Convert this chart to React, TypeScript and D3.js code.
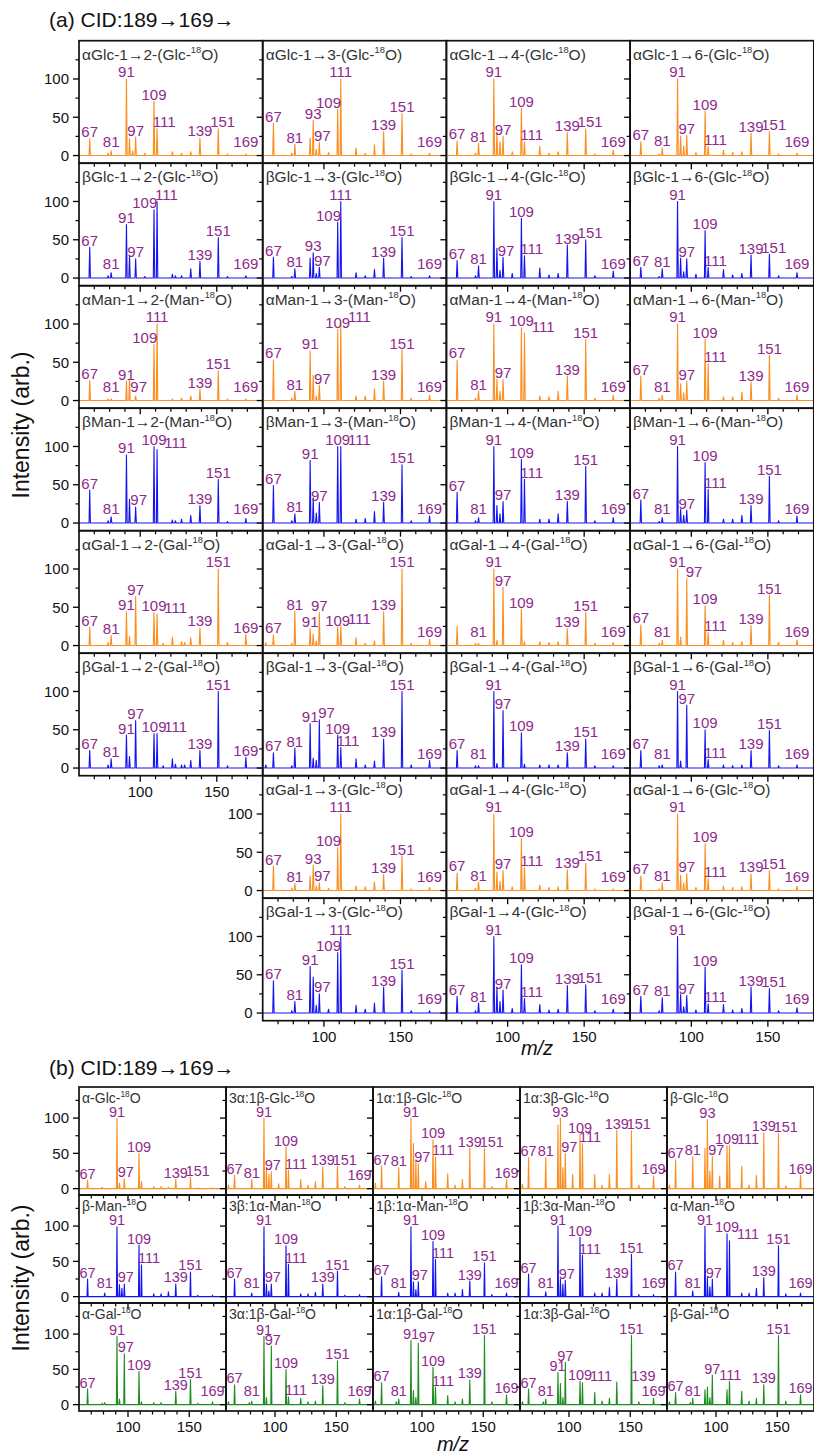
import React from "react";
import * as d3 from "d3";

type Peak = [number, number];

// ---------------- axis settings ----------------
const MZ_RANGE: [number, number] = [60, 180];
const Y_MAJOR = [0, 50, 100];
const Y_MINOR = [25, 75, 125];
const X_MAJOR = [100, 150];
const X_MINOR = [70, 80, 90, 110, 120, 130, 140, 160, 170];

// ---------------- peak label sets ----------------
const LBL_STD = [67, 81, 91, 97, 109, 111, 139, 151, 169];
const LBL_93 = [67, 81, 93, 97, 109, 111, 139, 151, 169];
const LBL_NO67_111 = [81, 91, 97, 109, 139, 151, 169];
const LBL_NO111 = [67, 81, 91, 97, 109, 139, 151, 169];
const LBL_B_AGLC = [67, 91, 97, 109, 139, 151];
const LBL_B_MAN = [67, 81, 91, 97, 109, 111, 139, 151];
const LBL_B_AGAL = [67, 91, 97, 109, 139, 151, 169];
const LBL_B_BGAL = [67, 81, 97, 111, 139, 151, 169];

// ---------------- (a) disaccharide spectra: [m/z, intensity] ----------------
const aGlc12: Peak[] = [[67, 22], [79, 3], [81, 6], [91, 100], [93, 22], [95, 6], [97, 24], [103, 3], [109, 71], [111, 35], [121, 5], [127, 3], [133, 5], [139, 23], [151, 35], [157, 2], [169, 2]];
const aGlc13: Peak[] = [[67, 42], [79, 3], [81, 15], [91, 23], [93, 46], [95, 8], [97, 17], [103, 4], [109, 60], [111, 100], [121, 10], [127, 3], [133, 14], [139, 31], [151, 55], [157, 2], [169, 3]];
const aGlc14: Peak[] = [[67, 19], [79, 3], [81, 16], [91, 100], [93, 31], [95, 18], [97, 25], [103, 5], [109, 62], [111, 18], [121, 12], [127, 3], [133, 5], [139, 30], [151, 35], [157, 2], [169, 7]];
const aGlc16: Peak[] = [[67, 18], [79, 2], [81, 10], [91, 100], [93, 25], [95, 12], [97, 26], [103, 4], [109, 58], [111, 12], [121, 7], [127, 4], [133, 5], [139, 29], [151, 31], [157, 2], [169, 3]];

const bGlc12: Peak[] = [[67, 40], [79, 3], [81, 7], [91, 70], [93, 28], [97, 25], [103, 2], [109, 89], [111, 100], [121, 5], [123, 3], [127, 3], [133, 12], [139, 22], [151, 53], [157, 2], [169, 3]];
const bGlc13: Peak[] = [[67, 27], [79, 2], [81, 12], [91, 26], [93, 33], [95, 6], [97, 14], [109, 73], [111, 100], [121, 7], [127, 3], [133, 11], [139, 26], [151, 53], [157, 2], [169, 3]];
const bGlc14: Peak[] = [[67, 23], [79, 3], [81, 16], [91, 100], [93, 39], [95, 10], [97, 27], [103, 6], [109, 78], [111, 29], [121, 13], [127, 4], [133, 6], [139, 43], [151, 50], [157, 3], [169, 9]];
const bGlc16: Peak[] = [[67, 14], [79, 2], [81, 12], [91, 100], [93, 26], [95, 8], [97, 25], [103, 5], [109, 62], [111, 14], [121, 11], [127, 4], [133, 6], [139, 30], [151, 31], [157, 3], [169, 7]];

const aMan12: Peak[] = [[67, 26], [79, 2], [81, 2], [91, 25], [93, 28], [97, 6], [109, 73], [111, 100], [121, 2], [127, 3], [133, 6], [139, 15], [151, 39], [157, 2], [169, 2]];
const aMan13: Peak[] = [[67, 53], [79, 3], [81, 12], [91, 65], [93, 33], [95, 6], [97, 20], [109, 93], [111, 100], [121, 6], [127, 6], [133, 15], [139, 25], [151, 66], [157, 3], [169, 7]];
const aMan14: Peak[] = [[67, 53], [79, 3], [81, 12], [91, 100], [93, 28], [95, 12], [97, 27], [109, 95], [111, 88], [121, 6], [127, 5], [133, 12], [139, 32], [151, 80], [157, 3], [169, 7]];
const aMan16: Peak[] = [[67, 32], [79, 3], [81, 7], [91, 100], [93, 22], [95, 10], [97, 25], [109, 80], [111, 48], [121, 5], [127, 5], [133, 11], [139, 24], [151, 59], [157, 3], [169, 7]];

const bMan12: Peak[] = [[67, 43], [79, 3], [81, 8], [91, 89], [93, 31], [97, 21], [109, 100], [111, 96], [121, 4], [123, 3], [127, 5], [133, 10], [139, 23], [151, 57], [157, 2], [169, 6]];
const bMan13: Peak[] = [[67, 49], [79, 3], [81, 12], [91, 82], [93, 33], [95, 13], [97, 27], [109, 100], [111, 100], [121, 5], [127, 6], [133, 15], [139, 27], [151, 76], [157, 3], [169, 9]];
const bMan14: Peak[] = [[67, 40], [79, 3], [81, 7], [91, 100], [93, 23], [95, 12], [97, 28], [109, 83], [111, 57], [121, 5], [127, 5], [133, 12], [139, 28], [151, 74], [157, 3], [169, 7]];
const bMan16: Peak[] = [[67, 30], [79, 2], [81, 7], [91, 100], [93, 18], [95, 10], [97, 17], [109, 79], [111, 44], [121, 5], [127, 5], [133, 10], [139, 23], [151, 61], [157, 3], [169, 9]];

const aGal12: Peak[] = [[67, 24], [79, 4], [81, 13], [91, 44], [93, 12], [97, 64], [109, 43], [111, 41], [115, 3], [121, 11], [127, 5], [129, 4], [133, 10], [139, 23], [151, 100], [157, 4], [169, 15]];
const aGal13: Peak[] = [[62, 4], [67, 14], [79, 3], [81, 45], [91, 22], [93, 15], [95, 6], [97, 43], [109, 24], [111, 26], [121, 10], [127, 3], [133, 6], [139, 44], [151, 100], [157, 3], [169, 8]];
const aGal14: Peak[] = [[67, 25], [79, 3], [81, 3], [91, 100], [93, 7], [97, 76], [109, 47], [111, 5], [121, 5], [127, 4], [133, 5], [139, 22], [151, 43], [157, 3], [169, 4]];
const aGal16: Peak[] = [[67, 27], [79, 3], [81, 7], [91, 100], [93, 11], [97, 88], [109, 52], [111, 17], [121, 7], [127, 4], [133, 5], [139, 26], [151, 66], [157, 4], [169, 7]];

const bGal12: Peak[] = [[67, 23], [79, 4], [81, 12], [91, 43], [93, 15], [97, 62], [109, 45], [111, 45], [115, 3], [121, 12], [123, 5], [127, 4], [129, 4], [133, 10], [139, 23], [151, 100], [157, 3], [169, 14]];
const bGal13: Peak[] = [[62, 4], [67, 20], [79, 3], [81, 26], [91, 58], [93, 13], [95, 10], [97, 63], [109, 43], [111, 27], [121, 12], [127, 4], [133, 9], [139, 38], [151, 100], [157, 4], [169, 10]];
const bGal14: Peak[] = [[67, 23], [79, 3], [81, 3], [91, 100], [93, 6], [97, 75], [109, 46], [111, 5], [121, 4], [127, 4], [133, 4], [139, 20], [151, 38], [157, 3], [169, 3]];
const bGal16: Peak[] = [[67, 23], [79, 3], [81, 4], [91, 100], [93, 9], [97, 82], [109, 50], [111, 11], [121, 4], [127, 3], [133, 4], [139, 23], [151, 49], [157, 3], [169, 4]];

const aGalGlc13: Peak[] = [[67, 32], [79, 3], [81, 9], [91, 19], [93, 33], [95, 6], [97, 10], [103, 3], [109, 56], [111, 100], [121, 6], [127, 5], [133, 11], [139, 21], [151, 45], [157, 2], [169, 4]];
const aGalGlc14: Peak[] = [[67, 23], [79, 3], [81, 11], [91, 100], [93, 24], [95, 12], [97, 26], [103, 5], [109, 68], [111, 30], [121, 7], [127, 4], [133, 5], [139, 27], [151, 36], [157, 2], [169, 2]];
const aGalGlc16: Peak[] = [[67, 19], [79, 2], [81, 10], [91, 100], [93, 20], [95, 10], [97, 22], [103, 4], [109, 61], [111, 16], [121, 6], [127, 4], [133, 5], [139, 22], [151, 26], [157, 2], [169, 6]];

const bGalGlc13: Peak[] = [[67, 42], [79, 3], [81, 15], [91, 61], [93, 47], [95, 10], [97, 25], [103, 5], [109, 79], [111, 100], [121, 10], [127, 5], [133, 13], [139, 34], [151, 56], [157, 3], [169, 3]];
const bGalGlc14: Peak[] = [[67, 22], [79, 3], [81, 13], [91, 100], [93, 33], [95, 15], [97, 30], [103, 6], [109, 63], [111, 19], [121, 11], [127, 4], [133, 5], [139, 36], [151, 37], [157, 3], [169, 5]];
const bGalGlc16: Peak[] = [[67, 22], [79, 3], [81, 20], [91, 100], [93, 24], [95, 8], [97, 23], [103, 4], [109, 60], [111, 12], [121, 11], [127, 4], [133, 6], [139, 34], [151, 32], [157, 3], [169, 7]];

// ---------------- (b) monosaccharide spectra ----------------
const mAGlc: Peak[] = [[67, 12], [79, 2], [91, 100], [93, 8], [97, 14], [109, 50], [111, 10], [121, 3], [127, 3], [133, 2], [139, 13], [151, 16], [157, 1], [169, 1]];
const m3a1bGlc: Peak[] = [[62, 5], [67, 19], [81, 13], [91, 100], [93, 30], [95, 20], [97, 24], [103, 7], [109, 59], [111, 26], [121, 13], [127, 5], [133, 10], [139, 31], [151, 32], [157, 3], [169, 5]];
const m1a1bGlc: Peak[] = [[62, 8], [67, 32], [81, 30], [91, 100], [93, 64], [95, 40], [97, 36], [103, 10], [109, 69], [111, 45], [121, 21], [127, 5], [133, 13], [139, 57], [151, 57], [157, 3], [169, 13]];
const m1a3bGlc: Peak[] = [[62, 6], [67, 44], [81, 44], [91, 90], [93, 100], [95, 30], [97, 50], [103, 20], [109, 77], [111, 64], [121, 20], [127, 5], [133, 20], [139, 83], [151, 82], [157, 5], [169, 18]];
const mBGlc: Peak[] = [[62, 5], [67, 41], [81, 45], [91, 57], [93, 98], [95, 25], [97, 45], [103, 18], [109, 61], [111, 61], [121, 32], [127, 5], [133, 19], [139, 79], [151, 78], [157, 4], [169, 19]];

const mBMan: Peak[] = [[67, 25], [81, 5], [91, 99], [93, 17], [95, 12], [97, 18], [109, 73], [111, 45], [121, 4], [127, 4], [133, 7], [139, 18], [151, 35], [157, 2], [169, 2]];
const m3b1aMan: Peak[] = [[67, 25], [81, 5], [91, 99], [93, 18], [95, 8], [97, 18], [109, 72], [111, 46], [121, 4], [127, 4], [133, 6], [139, 18], [151, 36], [157, 2], [169, 3]];
const m1b1aMan: Peak[] = [[67, 28], [81, 6], [91, 99], [93, 21], [95, 10], [97, 21], [109, 78], [111, 53], [121, 5], [127, 5], [133, 10], [139, 22], [151, 48], [157, 3], [169, 5]];
const m1b3aMan: Peak[] = [[67, 32], [81, 7], [91, 100], [93, 25], [95, 18], [97, 23], [109, 84], [111, 59], [121, 5], [127, 5], [133, 13], [139, 25], [151, 60], [157, 3], [169, 3]];
const mAMan: Peak[] = [[67, 35], [81, 8], [91, 100], [93, 27], [95, 14], [97, 25], [109, 89], [111, 79], [121, 5], [127, 5], [133, 12], [139, 27], [151, 72], [157, 4], [169, 5]];

const mAGal: Peak[] = [[67, 22], [79, 2], [81, 3], [91, 97], [93, 8], [97, 72], [109, 47], [111, 4], [121, 3], [127, 3], [139, 19], [151, 36], [157, 2], [169, 4]];
const m3a1bGal: Peak[] = [[62, 4], [67, 28], [79, 3], [81, 5], [91, 97], [93, 10], [97, 83], [109, 50], [111, 11], [121, 9], [127, 4], [133, 5], [139, 27], [151, 62], [157, 3], [169, 8]];
const m1a1bGal: Peak[] = [[62, 5], [67, 31], [79, 4], [81, 8], [91, 91], [93, 20], [95, 10], [97, 87], [109, 53], [111, 25], [121, 13], [127, 4], [133, 8], [139, 35], [151, 98], [157, 4], [169, 14]];
const m1a3bGal: Peak[] = [[62, 4], [67, 22], [79, 4], [81, 8], [91, 46], [93, 30], [95, 10], [97, 60], [109, 33], [111, 31], [121, 17], [127, 5], [133, 9], [139, 32], [151, 98], [157, 4], [169, 9]];
const mBGal: Peak[] = [[62, 4], [67, 17], [79, 3], [81, 9], [91, 21], [93, 25], [95, 10], [97, 42], [109, 21], [111, 33], [121, 19], [127, 5], [133, 9], [139, 28], [151, 98], [157, 5], [169, 14]];

// ---------------- panel titles ("^18" marks the superscript) ----------------
const titlesA: (string | null)[][] = [
  ["αGlc-1→2-(Glc-^18O)", "αGlc-1→3-(Glc-^18O)", "αGlc-1→4-(Glc-^18O)", "αGlc-1→6-(Glc-^18O)"],
  ["βGlc-1→2-(Glc-^18O)", "βGlc-1→3-(Glc-^18O)", "βGlc-1→4-(Glc-^18O)", "βGlc-1→6-(Glc-^18O)"],
  ["αMan-1→2-(Man-^18O)", "αMan-1→3-(Man-^18O)", "αMan-1→4-(Man-^18O)", "αMan-1→6-(Man-^18O)"],
  ["βMan-1→2-(Man-^18O)", "βMan-1→3-(Man-^18O)", "βMan-1→4-(Man-^18O)", "βMan-1→6-(Man-^18O)"],
  ["αGal-1→2-(Gal-^18O)", "αGal-1→3-(Gal-^18O)", "αGal-1→4-(Gal-^18O)", "αGal-1→6-(Gal-^18O)"],
  ["βGal-1→2-(Gal-^18O)", "βGal-1→3-(Gal-^18O)", "βGal-1→4-(Gal-^18O)", "βGal-1→6-(Gal-^18O)"],
  [null, "αGal-1→3-(Glc-^18O)", "αGal-1→4-(Glc-^18O)", "αGal-1→6-(Glc-^18O)"],
  [null, "βGal-1→3-(Glc-^18O)", "βGal-1→4-(Glc-^18O)", "βGal-1→6-(Glc-^18O)"],
];
const spectraA: (Peak[] | null)[][] = [
  [aGlc12, aGlc13, aGlc14, aGlc16],
  [bGlc12, bGlc13, bGlc14, bGlc16],
  [aMan12, aMan13, aMan14, aMan16],
  [bMan12, bMan13, bMan14, bMan16],
  [aGal12, aGal13, aGal14, aGal16],
  [bGal12, bGal13, bGal14, bGal16],
  [null, aGalGlc13, aGalGlc14, aGalGlc16],
  [null, bGalGlc13, bGalGlc14, bGalGlc16],
];
const labelsA: (number[] | null)[][] = [
  [LBL_STD, LBL_93, LBL_STD, LBL_STD],
  [LBL_STD, LBL_93, LBL_STD, LBL_STD],
  [LBL_STD, LBL_STD, LBL_STD, LBL_STD],
  [LBL_STD, LBL_STD, LBL_STD, LBL_STD],
  [LBL_STD, LBL_STD, LBL_NO67_111, LBL_STD],
  [LBL_STD, LBL_STD, LBL_NO111, LBL_STD],
  [null, LBL_93, LBL_STD, LBL_STD],
  [null, LBL_STD, LBL_STD, LBL_STD],
];

const titlesB: string[][] = [
  ["α-Glc-^18O", "3α:1β-Glc-^18O", "1α:1β-Glc-^18O", "1α:3β-Glc-^18O", "β-Glc-^18O"],
  ["β-Man-^18O", "3β:1α-Man-^18O", "1β:1α-Man-^18O", "1β:3α-Man-^18O", "α-Man-^18O"],
  ["α-Gal-^18O", "3α:1β-Gal-^18O", "1α:1β-Gal-^18O", "1α:3β-Gal-^18O", "β-Gal-^18O"],
];
const spectraB: Peak[][][] = [
  [mAGlc, m3a1bGlc, m1a1bGlc, m1a3bGlc, mBGlc],
  [mBMan, m3b1aMan, m1b1aMan, m1b3aMan, mAMan],
  [mAGal, m3a1bGal, m1a1bGal, m1a3bGal, mBGal],
];
const labelsB: number[][][] = [
  [LBL_B_AGLC, LBL_STD, LBL_STD, LBL_93, LBL_93],
  [LBL_B_MAN, LBL_B_MAN, LBL_STD, LBL_STD, LBL_STD],
  [LBL_B_AGAL, LBL_STD, LBL_STD, LBL_STD, LBL_B_BGAL],
];

// ---------------- styling ----------------
const FONT = "'Liberation Sans', Arial, Helvetica, sans-serif";
const ORANGE = "#FA8E1E";
const BLUE = "#1414F0";
const GREEN = "#1F8C1F";
const PURPLE = "#8E2A8C";
const TITLE_COLOR = "#333";

const rowColorsA = [ORANGE, BLUE, ORANGE, BLUE, ORANGE, BLUE, ORANGE, BLUE];
const rowColorsB = [ORANGE, BLUE, GREEN];

type LabelPos = { mz: number; x: number; y: number };
type Scale = d3.ScaleLinear<number, number>;

const EPS = 0.05;

// Approximate inked width of a numeric label ("1" is visually narrow).
function labelWidth(text: string, fs: number): number {
  let em = 0;
  for (const ch of text) em += ch === "1" ? 0.42 : 0.556;
  return em * fs;
}

// Place peak labels just above their peaks, sliding a label sideways (to the
// nearest free slot, slightly favouring the right) when a clearly taller peak
// or an earlier label is in the way.
function placeLabels(labels: number[], peaks: Peak[], xs: Scale, ys: Scale, fs: number): LabelPos[] {
  const out: LabelPos[] = [];
  const boxes: { l: number; r: number; t: number; b: number }[] = [];
  const [px0, px1] = xs.range();
  for (const mz of labels) {
    const own = peaks.filter((p) => Math.abs(p[0] - mz) < 0.6);
    const hv = own.length ? Math.max(...own.map((p) => p[1])) : 0;
    const w = labelWidth(String(mz), fs);
    const capH = fs * 0.72;
    const x0 = xs(mz);
    const base = Math.min(ys(hv) - 1.5, ys(0) - 9);
    const top = base - capH;

    const blocked: [number, number][] = [];
    for (const p of peaks) {
      if (Math.abs(p[0] - mz) < 0.6) continue;
      if (ys(p[1]) < base - capH * 0.45) blocked.push([xs(p[0]) - 0.8, xs(p[0]) + 0.8]);
    }
    for (const bx of boxes) {
      const vOverlap = Math.min(bx.b, base) - Math.max(bx.t, top);
      if (vOverlap > 1.5) blocked.push([bx.l - 0.8, bx.r + 0.8]);
    }
    const inside = (cx: number) => cx - w / 2 >= px0 - 4 && cx + w / 2 <= px1 + 6;
    const fits = (cx: number) =>
      inside(cx) && blocked.every(([a, b]) => cx + w / 2 <= a + EPS || cx - w / 2 >= b - EPS);
    let bestX = x0;
    if (!fits(x0)) {
      const cands = blocked.flatMap(([a, b]) => [a - w / 2, b + w / 2]).filter(fits);
      const cost = (c: number) => Math.abs(c - x0) * (c < x0 ? 1.15 : 1);
      if (cands.length) {
        bestX = cands.reduce((acc, c) => (cost(c) < cost(acc) ? c : acc), cands[0]);
      }
    }
    boxes.push({ l: bestX - w / 2, r: bestX + w / 2, t: top, b: base });
    out.push({ mz, x: bestX, y: base });
  }
  return out;
}

function Title({ text, x, y, fs }: { text: string; x: number; y: number; fs: number }) {
  const [pre, post] = text.split("^18");
  const sup = fs * 0.6;
  const shift = fs * 0.42;
  return (
    <text x={x} y={y} fontSize={fs} fill={TITLE_COLOR} fontFamily={FONT}>
      <tspan>{pre}</tspan>
      <tspan fontSize={sup} dy={-shift}>18</tspan>
      <tspan dy={shift}>{post}</tspan>
    </text>
  );
}

type PanelProps = {
  x0: number;
  y0: number;
  w: number;
  h: number;
  yDomain: [number, number];
  peaks: Peak[];
  labels: number[];
  color: string;
  title: string;
  titleFs: number;
  titleDy: number;
  labelFs: number;
  showY: boolean;
  showX: boolean;
};

const TICK_FS = 15;

function Panel(p: PanelProps) {
  const xs = d3.scaleLinear().domain(MZ_RANGE).range([p.x0, p.x0 + p.w]);
  const ys = d3.scaleLinear().domain(p.yDomain).range([p.y0 + p.h, p.y0]);
  const pts: [number, number][] = [[MZ_RANGE[0], 0]];
  [...p.peaks]
    .sort((a, b) => a[0] - b[0])
    .forEach(([mz, v]) => {
      pts.push([mz - 0.45, 0], [mz, v], [mz + 0.45, 0]);
    });
  pts.push([MZ_RANGE[1], 0]);
  const line = d3
    .line<[number, number]>()
    .x((d) => xs(d[0]))
    .y((d) => ys(d[1]));
  const placed = placeLabels(p.labels, p.peaks, xs, ys, p.labelFs);
  const bottom = p.y0 + p.h;
  return (
    <g>
      <path d={line(pts) || ""} fill="none" stroke={p.color} strokeWidth={1.1} strokeLinejoin="round" />
      {placed.map((l) => (
        <text key={l.mz} x={l.x} y={l.y} fontSize={p.labelFs} fill={PURPLE} textAnchor="middle" fontFamily={FONT}>
          {l.mz}
        </text>
      ))}
      <Title text={p.title} x={p.x0 + 3} y={p.y0 + p.titleDy} fs={p.titleFs} />
      {Y_MAJOR.map((v) => (
        <line key={"ym" + v} x1={p.x0 - 6} x2={p.x0} y1={ys(v)} y2={ys(v)} stroke="#000" strokeWidth={1.3} />
      ))}
      {Y_MINOR.filter((v) => v < p.yDomain[1]).map((v) => (
        <line key={"yn" + v} x1={p.x0 - 3.5} x2={p.x0} y1={ys(v)} y2={ys(v)} stroke="#000" strokeWidth={1.2} />
      ))}
      {X_MAJOR.map((v) => (
        <line key={"xm" + v} x1={xs(v)} x2={xs(v)} y1={bottom} y2={bottom + 6} stroke="#000" strokeWidth={1.3} />
      ))}
      {X_MINOR.map((v) => (
        <line key={"xn" + v} x1={xs(v)} x2={xs(v)} y1={bottom} y2={bottom + 3.5} stroke="#000" strokeWidth={1.2} />
      ))}
      {p.showY &&
        Y_MAJOR.map((v) => (
          <text key={"yl" + v} x={p.x0 - 10} y={ys(v)} dy="0.36em" textAnchor="end" fontSize={TICK_FS} fill="#111" fontFamily={FONT}>
            {v}
          </text>
        ))}
      {p.showX &&
        X_MAJOR.map((v) => (
          <text key={"xl" + v} x={xs(v)} y={bottom + 21} textAnchor="middle" fontSize={TICK_FS} fill="#111" fontFamily={FONT}>
            {v}
          </text>
        ))}
      <rect x={p.x0} y={p.y0} width={p.w} height={p.h} fill="none" stroke="#111" strokeWidth={1.7} />
    </g>
  );
}

// ---------------- grid geometry ----------------
const A_LEFT = 79;
const A_TOP = 40.7;
const A_COLW = 183.7;
const A_ROWH = 122.5;
const A_YDOM: [number, number] = [-10, 150];

const B_LEFT = 79;
const B_TOP = 1087;
const B_COLW = 147;
const B_ROWH = 108;
const B_YDOM: [number, number] = [-9, 144];

export default function App() {
  const panelsA: JSX.Element[] = [];
  titlesA.forEach((row, r) =>
    row.forEach((title, c) => {
      const peaks = spectraA[r][c];
      const labels = labelsA[r][c];
      if (!title || !peaks || !labels) return;
      const firstCol = c === 0 || titlesA[r][c - 1] === null;
      const lastRow = r === titlesA.length - 1 || titlesA[r + 1][c] === null;
      panelsA.push(
        <Panel
          key={`a${r}-${c}`}
          x0={A_LEFT + c * A_COLW}
          y0={A_TOP + r * A_ROWH}
          w={A_COLW}
          h={A_ROWH}
          yDomain={A_YDOM}
          peaks={peaks}
          labels={labels}
          color={rowColorsA[r]}
          title={title}
          titleFs={15.5}
          titleDy={19}
          labelFs={15}
          showY={firstCol}
          showX={lastRow}
        />
      );
    })
  );
  const panelsB: JSX.Element[] = [];
  titlesB.forEach((row, r) =>
    row.forEach((title, c) => {
      panelsB.push(
        <Panel
          key={`b${r}-${c}`}
          x0={B_LEFT + c * B_COLW}
          y0={B_TOP + r * B_ROWH}
          w={B_COLW}
          h={B_ROWH}
          yDomain={B_YDOM}
          peaks={spectraB[r][c]}
          labels={labelsB[r][c]}
          color={rowColorsB[r]}
          title={title}
          titleFs={14}
          titleDy={16}
          labelFs={14.5}
          showY={c === 0}
          showX={r === titlesB.length - 1}
        />
      );
    })
  );

  return (
    <svg
      width={814}
      height={1455}
      style={{ position: "absolute", left: 0, top: 0, background: "#fff" }}
      fontFamily={FONT}
    >
      <rect width={814} height={1455} fill="#fff" />
      <text x={49} y={27} fontSize={21} fill="#111">
        (a) CID:189→169→
      </text>
      <text x={49} y={1075} fontSize={21} fill="#111">
        (b) CID:189→169→
      </text>
      {panelsA}
      {panelsB}
      <text transform="translate(29,425) rotate(-90)" textAnchor="middle" fontSize={23} fill="#111">
        Intensity (arb.)
      </text>
      <text transform="translate(29,1278) rotate(-90)" textAnchor="middle" fontSize={23} fill="#111">
        Intensity (arb.)
      </text>
      <text x={537} y={1055} textAnchor="middle" fontSize={20} fontStyle="italic" fill="#111">
        m/z
      </text>
      <text x={453} y={1451} textAnchor="middle" fontSize={20} fontStyle="italic" fill="#111">
        m/z
      </text>
    </svg>
  );
}
